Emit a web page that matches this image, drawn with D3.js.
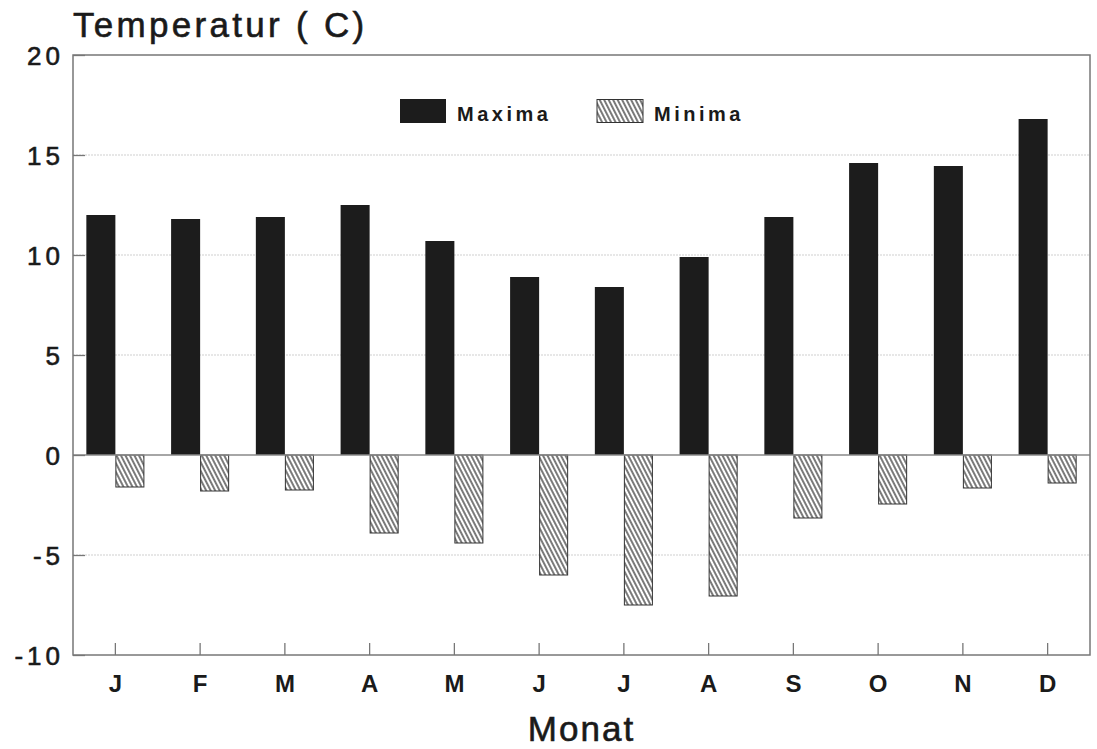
<!DOCTYPE html>
<html><head><meta charset="utf-8">
<script src="https://cdn.jsdelivr.net/npm/d3@7"></script>
<style>
html,body{margin:0;padding:0;background:#fff;}
text{font-family:Arial,"Liberation Sans",Helvetica,sans-serif;fill:#1a1a1a;}
</style></head>
<body>
<svg id="chart" width="1097" height="749"></svg>
<script>
const months = ["J","F","M","A","M","J","J","A","S","O","N","D"];
const maxima = [12.0, 11.8, 11.9, 12.5, 10.7, 8.9, 8.4, 9.9, 11.9, 14.6, 14.45, 16.8];
const minima = [-1.6, -1.8, -1.75, -3.9, -4.4, -6.0, -7.5, -7.05, -3.15, -2.45, -1.65, -1.4];
const yTicks = [20, 15, 10, 5, 0, -5, -10];
const yTickLabels = ["20", "15", "10", "5", "0", "-5", "-10"];
const seriesNames = ["Maxima", "Minima"];

const svg = d3.select("#chart");
const L = 73, R = 1090, T = 55, B = 655;

const defs = svg.append("defs");
const pat = defs.append("pattern").attr("id","hatch").attr("patternUnits","userSpaceOnUse")
  .attr("width",4).attr("height",10).attr("patternTransform","rotate(-27)");
pat.append("rect").attr("width",4).attr("height",10).attr("fill","#fff");
pat.append("line").attr("x1",1).attr("y1",0).attr("x2",1).attr("y2",10)
  .attr("stroke","#222").attr("stroke-width",1.2);

const idx = months.map((d,i)=>i);
const x = d3.scaleBand().domain(idx).range([L,R]).paddingInner(0.315).paddingOuter(0.1575);
const x1 = d3.scaleBand().domain(["max","min"]).range([0, x.bandwidth()]);
const y = d3.scaleLinear().domain([-10,20]).range([B,T]);

// gridlines
svg.append("g").selectAll("line").data(yTicks.filter(d=>d!==0 && d!==20 && d!==-10)).join("line")
  .attr("x1",L).attr("x2",R).attr("y1",d=>y(d)).attr("y2",d=>y(d))
  .attr("stroke","#cfcfcf").attr("stroke-width",1).attr("stroke-dasharray","2,1");

// bars
svg.append("g").selectAll("rect").data(maxima).join("rect")
  .attr("x",(d,i)=>x(i)+x1("max")).attr("width",x1.bandwidth())
  .attr("y",d=>y(d)).attr("height",d=>y(0)-y(d)).attr("fill","#1c1c1c");
svg.append("g").selectAll("rect").data(minima).join("rect")
  .attr("x",(d,i)=>x(i)+x1("min")+0.5).attr("width",x1.bandwidth()-1)
  .attr("y",y(0)).attr("height",d=>y(d)-y(0))
  .attr("fill","url(#hatch)").attr("stroke","#333").attr("stroke-width",1);

// zero line
svg.append("line").attr("x1",L).attr("x2",R).attr("y1",y(0)).attr("y2",y(0))
  .attr("stroke","#888").attr("stroke-width",1.3);

// frame
svg.append("rect").attr("x",L).attr("y",T).attr("width",R-L).attr("height",B-T)
  .attr("fill","none").attr("stroke","#777").attr("stroke-width",1.5);

const heavy = sel => sel.attr("stroke","#1a1a1a").attr("stroke-width",0.6);

// y axis
const yAxis = d3.axisLeft(y).tickValues(yTicks)
  .tickFormat(v=>yTickLabels[yTicks.indexOf(v)]).tickSize(-12).tickPadding(14);
const gy = svg.append("g").attr("transform",`translate(${L},0)`).call(yAxis);
gy.select(".domain").remove();
gy.selectAll(".tick line").attr("stroke","#777").attr("stroke-width",1.3);
gy.selectAll(".tick text").attr("font-size",26).attr("letter-spacing",4)
  .attr("dx",5).attr("dy","0.36em").attr("fill","#1a1a1a")
  .style("font-family","Arial, 'Liberation Sans', sans-serif").call(heavy);

// x axis
const xAxis = d3.axisBottom(x).tickFormat(i=>months[i]).tickSize(-12).tickPadding(20);
const gx = svg.append("g").attr("transform",`translate(0,${B})`).call(xAxis);
gx.select(".domain").remove();
gx.selectAll(".tick line").attr("stroke","#777").attr("stroke-width",1.3);
gx.selectAll(".tick text").attr("font-size",24).attr("font-weight","bold")
  .attr("fill","#1a1a1a").style("font-family","Arial, 'Liberation Sans', sans-serif");

// title
svg.append("text").attr("x",L).attr("y",37).attr("font-size",35).attr("letter-spacing",3.3)
  .text("Temperatur ( C)").call(heavy);
// x label
svg.append("text").attr("x",(L+R)/2).attr("y",741).attr("text-anchor","middle")
  .attr("font-size",35).attr("letter-spacing",2).text("Monat").call(heavy);

// legend
const leg = svg.append("g");
leg.append("rect").attr("x",400).attr("y",99).attr("width",46).attr("height",24).attr("fill","#1c1c1c");
leg.append("text").attr("x",457).attr("y",121).attr("font-size",20).attr("font-weight","bold")
  .attr("letter-spacing",3.5).text(seriesNames[0]);
leg.append("rect").attr("x",597).attr("y",99.5).attr("width",46).attr("height",23)
  .attr("fill","url(#hatch)").attr("stroke","#333").attr("stroke-width",1);
leg.append("text").attr("x",654).attr("y",121).attr("font-size",20).attr("font-weight","bold")
  .attr("letter-spacing",3.5).text(seriesNames[1]);
</script>
</body></html>
